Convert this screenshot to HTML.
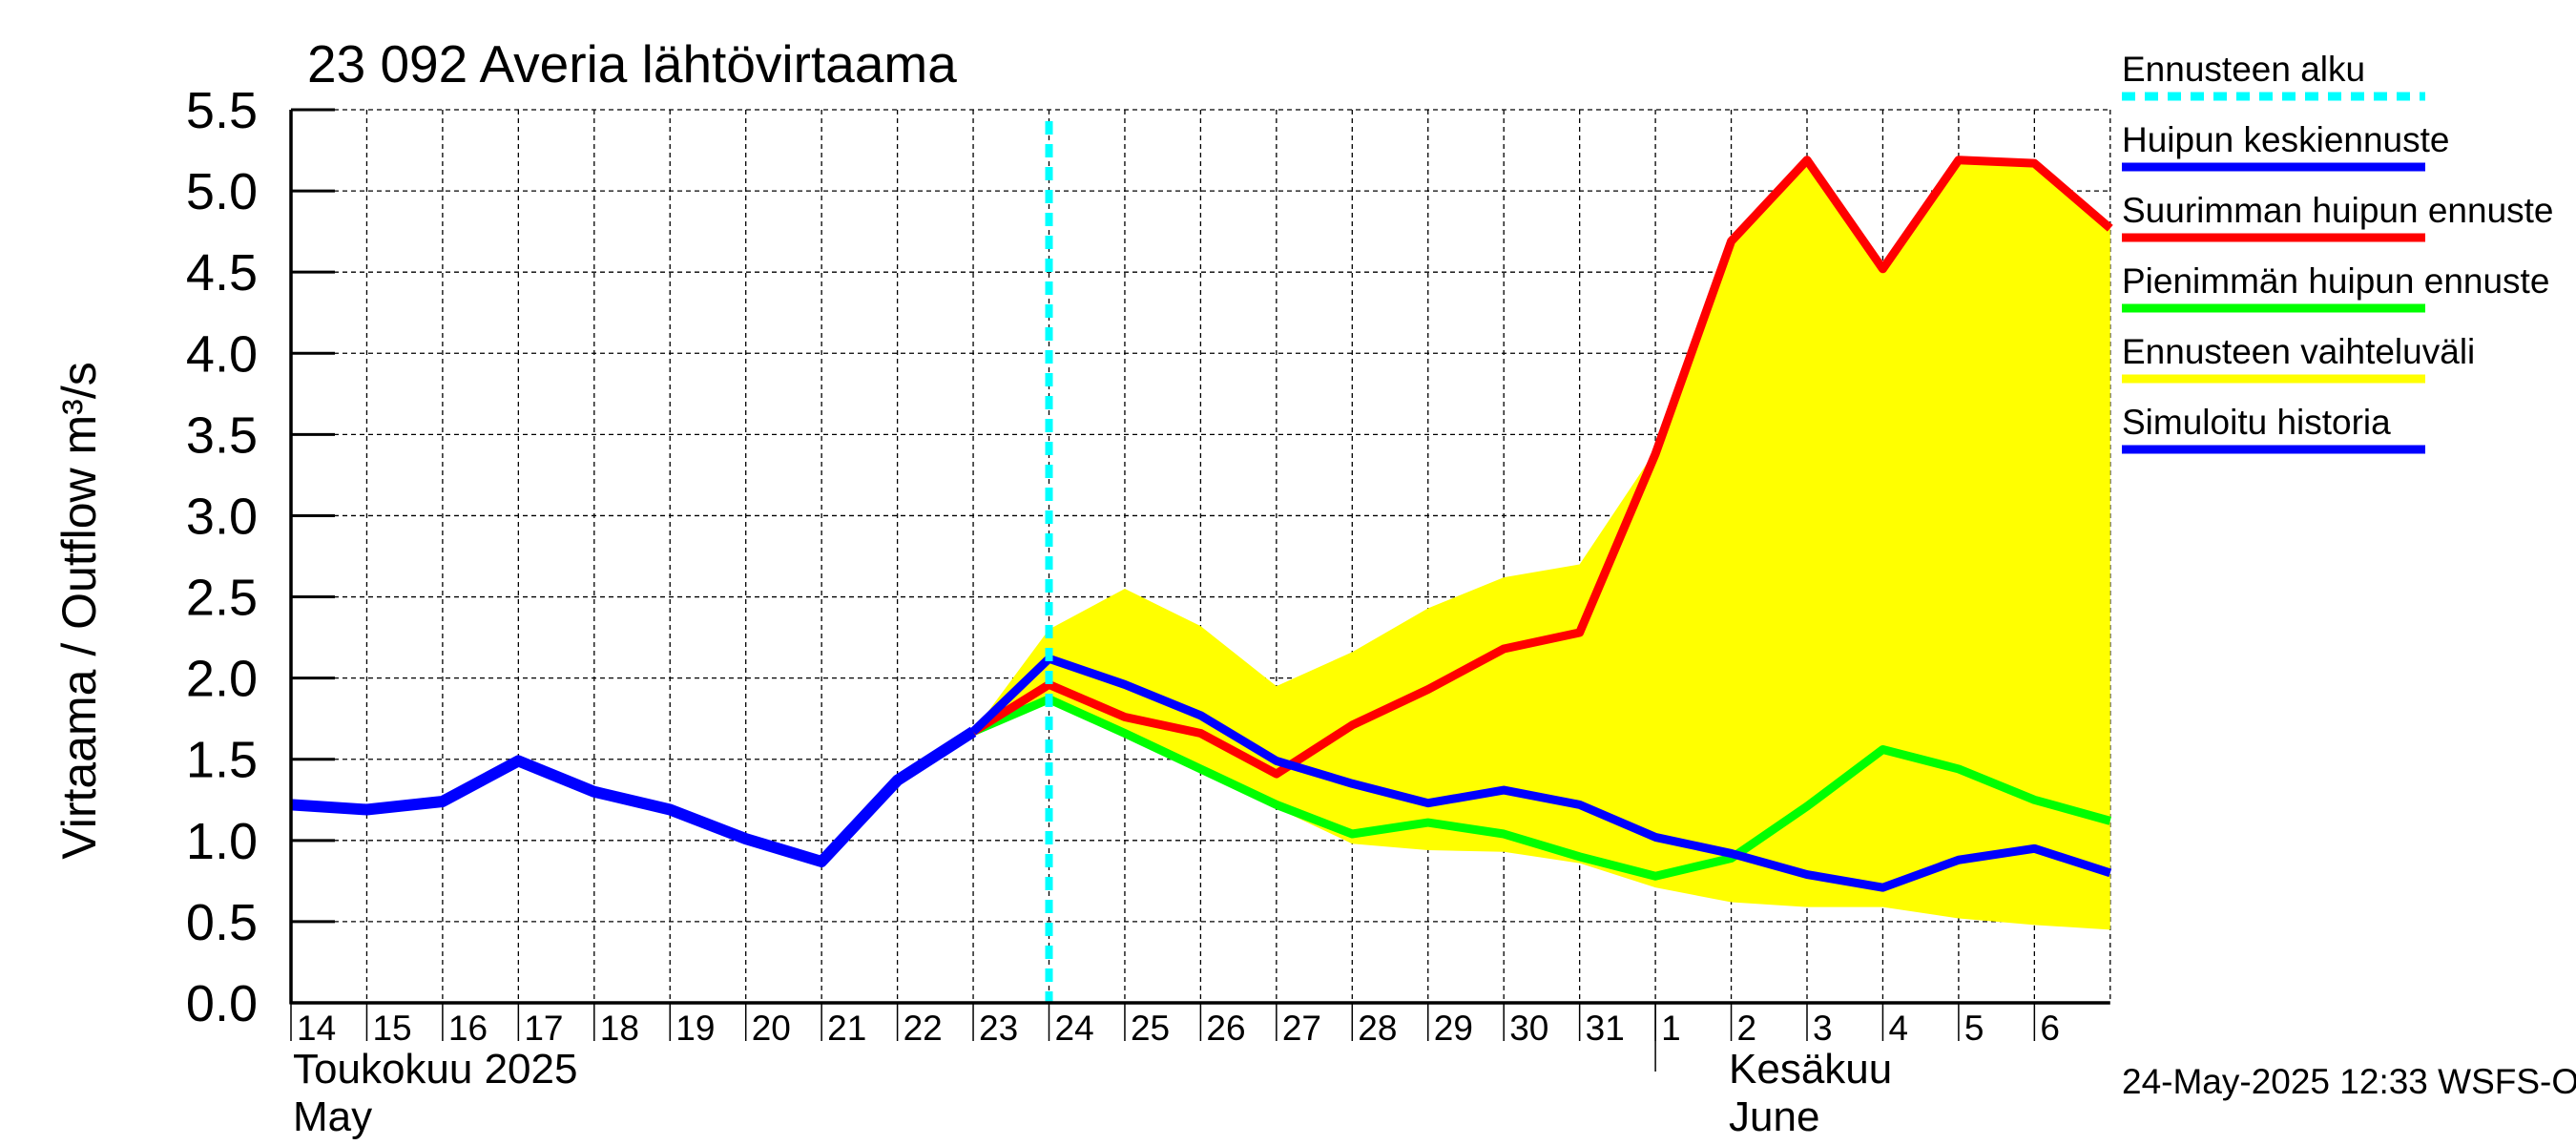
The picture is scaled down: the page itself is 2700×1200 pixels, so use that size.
<!DOCTYPE html>
<html><head><meta charset="utf-8"><style>
html,body{margin:0;padding:0;background:#fff}
svg{display:block;font-family:"Liberation Sans",sans-serif}
</style></head><body>
<svg id="chart" width="2700" height="1200" viewBox="0 0 2700 1200" xmlns="http://www.w3.org/2000/svg">
<rect width="2700" height="1200" fill="#fff"/>
<text x="322" y="86" font-size="55">23 092 Averia lähtövirtaama</text>
<text transform="translate(100,640) rotate(-90)" text-anchor="middle" font-size="50">Virtaama / Outflow    m³/s</text>
<g id="grid"></g>
<g id="marks"></g>
<g id="axes"></g>
<g font-size="37">
<text x="2224" y="85">Ennusteen alku</text>
<line x1="2224" y1="101" x2="2542" y2="101" stroke="#00ffff" stroke-width="9" stroke-dasharray="14,10"/>
<text x="2224" y="159">Huipun keskiennuste</text>
<line x1="2224" y1="175" x2="2542" y2="175" stroke="#0000ff" stroke-width="9"/>
<text x="2224" y="233">Suurimman huipun ennuste</text>
<line x1="2224" y1="249" x2="2542" y2="249" stroke="#ff0000" stroke-width="9"/>
<text x="2224" y="307">Pienimmän huipun ennuste</text>
<line x1="2224" y1="323" x2="2542" y2="323" stroke="#00ff00" stroke-width="9"/>
<text x="2224" y="381">Ennusteen vaihteluväli</text>
<line x1="2224" y1="397" x2="2542" y2="397" stroke="#ffff00" stroke-width="9"/>
<text x="2224" y="455">Simuloitu historia</text>
<line x1="2224" y1="471" x2="2542" y2="471" stroke="#0000ff" stroke-width="9"/>
</g>
<text x="2224" y="1146" font-size="37">24-May-2025 12:33 WSFS-O</text>
<text x="307" y="1135" font-size="44">Toukokuu  2025</text>
<text x="307" y="1185" font-size="44">May</text>
<text x="1812" y="1135" font-size="44">Kesäkuu</text>
<text x="1812" y="1185" font-size="44">June</text>
</svg>
<script>
// day index 0 = 14 May ... 24 = 7 June
const dayLabels = ["14","15","16","17","18","19","20","21","22","23","24","25","26","27","28","29","30","31","1","2","3","4","5","6"];
const yTicks = ["0.0","0.5","1.0","1.5","2.0","2.5","3.0","3.5","4.0","4.5","5.0","5.5"];
const historyDays = [0,1,2,3,4,5,6,7,8,9];
const historyValues = [1.22,1.19,1.24,1.49,1.30,1.19,1.01,0.87,1.37,1.67];
const forecastDays = [9,10,11,12,13,14,15,16,17,18,19,20,21,22,23,24];
const meanPeak = [1.67,2.12,1.96,1.77,1.49,1.35,1.23,1.31,1.22,1.02,0.92,0.79,0.71,0.88,0.95,0.80];
const maxPeak = [1.67,1.96,1.76,1.66,1.41,1.71,1.93,2.18,2.28,3.38,4.69,5.19,4.52,5.19,5.17,4.77];
const minPeak = [1.67,1.87,1.66,1.44,1.22,1.04,1.11,1.04,0.90,0.78,0.89,1.21,1.56,1.44,1.25,1.12];
const rangeTop = [1.67,2.30,2.55,2.32,1.95,2.16,2.43,2.62,2.70,3.40,4.69,5.19,4.52,5.19,5.17,4.77];
const rangeBottom = [1.67,1.85,1.66,1.44,1.20,0.98,0.94,0.93,0.86,0.71,0.62,0.59,0.59,0.52,0.48,0.45];
const forecastStart = 10;

const X0=305, DX=79.45, Y0=1051, YMAX=5.5, YTOP=115;
const xs = d => X0 + d*DX;
const ys = v => Y0 - v*(Y0-YTOP)/YMAX;
const NS="http://www.w3.org/2000/svg";
function mk(tag, parent, attrs){const e=document.createElementNS(NS,tag);for(const k in attrs)e.setAttribute(k,attrs[k]);parent.appendChild(e);return e;}
const grid=document.getElementById('grid'), marks=document.getElementById('marks'), axes=document.getElementById('axes');
const XR = xs(24);
// horizontal grid + y ticks
yTicks.forEach((t,i)=>{
  const v=parseFloat(t), y=ys(v);
  if(i>0){const g=mk('line',grid,{x1:X0,y1:y,x2:XR,y2:y,stroke:'#000','stroke-width':1.3,'stroke-dasharray':'5,4'});
  
  }
  const tk=mk('line',axes,{x1:X0,y1:y,x2:X0+46,y2:y,stroke:'#000','stroke-width':3});
  
  
  const tx=mk('text',axes,{x:X0-35,y:y+19,'text-anchor':'end','font-size':54});
  tx.textContent=t;
  
  
});
// vertical grid + day labels
dayLabels.forEach((t,i)=>{
  const x=xs(i);
  if(i>0){const g=mk('line',grid,{x1:x,y1:YTOP,x2:x,y2:Y0,stroke:'#000','stroke-width':1.3,'stroke-dasharray':'5,4'});
  
  }
  const tk=mk('line',axes,{x1:x,y1:Y0,x2:x,y2:1091,stroke:'#000','stroke-width':1.5});
  
  
  const tx=mk('text',axes,{x:x+6,y:1090,'font-size':37});
  tx.textContent=t;
  
  
});
{const g=mk('line',grid,{x1:XR,y1:YTOP,x2:XR,y2:Y0,stroke:'#000','stroke-width':1.3,'stroke-dasharray':'5,4'});

}
const ms=mk('line',axes,{x1:xs(18),y1:Y0,x2:xs(18),y2:1123,stroke:'#000','stroke-width':1.5});


// range band
let pts=forecastDays.map((d,i)=>xs(d)+','+ys(rangeTop[i]));
for(let i=forecastDays.length-1;i>=0;i--)pts.push(xs(forecastDays[i])+','+ys(rangeBottom[i]));
const band=mk('polygon',marks,{points:pts.join(' '),fill:'#ffff00'});


function line(days,vals,color,w,name){
  const p=mk('polyline',marks,{points:days.map((d,i)=>xs(d)+','+ys(vals[i])).join(' '),fill:'none',stroke:color,'stroke-width':w,'stroke-linejoin':'round'});
  
  
}
line(forecastDays,minPeak,'#00ff00',9,'min-peak-line');
line(forecastDays,maxPeak,'#ff0000',9,'max-peak-line');
line(forecastDays,meanPeak,'#0000ff',9,'mean-peak-line');
line(historyDays,historyValues,'#0000ff',12,'history-line');
const fs=mk('line',marks,{x1:xs(forecastStart),y1:YTOP+12,x2:xs(forecastStart),y2:Y0,stroke:'#00ffff','stroke-width':8,'stroke-dasharray':'14,10'});


// axis lines
const ya=mk('line',axes,{x1:X0,y1:YTOP,x2:X0,y2:Y0+1.5,stroke:'#000','stroke-width':3.5});


const xa=mk('line',axes,{x1:X0,y1:Y0,x2:XR,y2:Y0,stroke:'#000','stroke-width':3.5});


</script>
</body></html>
